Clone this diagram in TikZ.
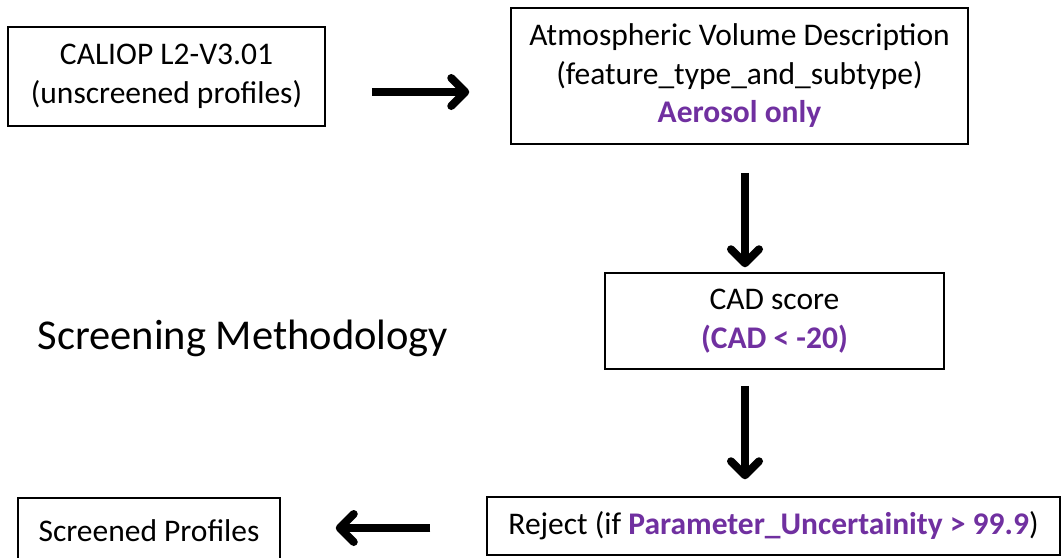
\documentclass[tikz,border=0pt]{standalone}
\usepackage{fontspec}
\setmainfont{Carlito}
\usetikzlibrary{positioning,arrows.meta}
\definecolor{officepurple}{HTML}{7030A0}

\begin{document}
\begin{tikzpicture}[x=1pt,y=-1pt,
				stepbox/.style={rectangle, draw=black, line width=1.5pt, align=center, inner sep=0pt, font=\fontsize{31.5}{38.5}\selectfont},
				bigarrow/.style={line width=8pt, -{Straight Barb[length=14pt,width=28pt,round]}},
				]
		\useasboundingbox (0,0) rectangle (1063,557);

				%Nodes
				\node[stepbox, minimum width=317pt, minimum height=99pt]	(caliop)	at (166.5,76.5)	{CALIOP L2-V3.01\\(unscreened profiles)};
				\node[stepbox, minimum width=457pt, minimum height=136pt]	(avd)	at (739.5,76)	{Atmospheric Volume Description\\(feature\_type\_and\_subtype)\\\textbf{\textcolor{officepurple}{Aerosol only}}};
				\node[stepbox, minimum width=339pt, minimum height=96pt]	(cad)	at (774.5,321)	{CAD score\\\textbf{\textcolor{officepurple}{(CAD < -20)}}};
				\node[stepbox, minimum width=573pt, minimum height=58pt]	(reject)	at (773.5,526)	{Reject (if \textbf{\textcolor{officepurple}{Parameter\_Uncertainity > 99.9}})};
				\node[stepbox, minimum width=262pt, minimum height=66pt]	(screened)	at (149,531)	{Screened Profiles};
				\node[font=\fontsize{42.5}{46}\selectfont]	(title)	at (243,338)	{Screening Methodology};

				%Arrows
				\draw[bigarrow, shorten <=46pt, shorten >=41pt]	([yshift=-15.5pt]caliop.east) -- ([yshift=-15.5pt]caliop.east -| avd.west);
				\draw[bigarrow, shorten <=28pt, shorten >=5pt]	([xshift=5.5pt]avd.south) -- ([xshift=5.5pt]avd.south |- cad.north);
				\draw[bigarrow, shorten <=16pt, shorten >=17pt]	([xshift=-29.5pt]cad.south) -- ([xshift=-29.5pt]cad.south |- reject.north);
				\draw[bigarrow, shorten <=56pt, shorten >=55pt]	([yshift=-2pt]reject.west) -- ([yshift=-2pt]reject.west -| screened.east);
\end{tikzpicture}
\end{document}
